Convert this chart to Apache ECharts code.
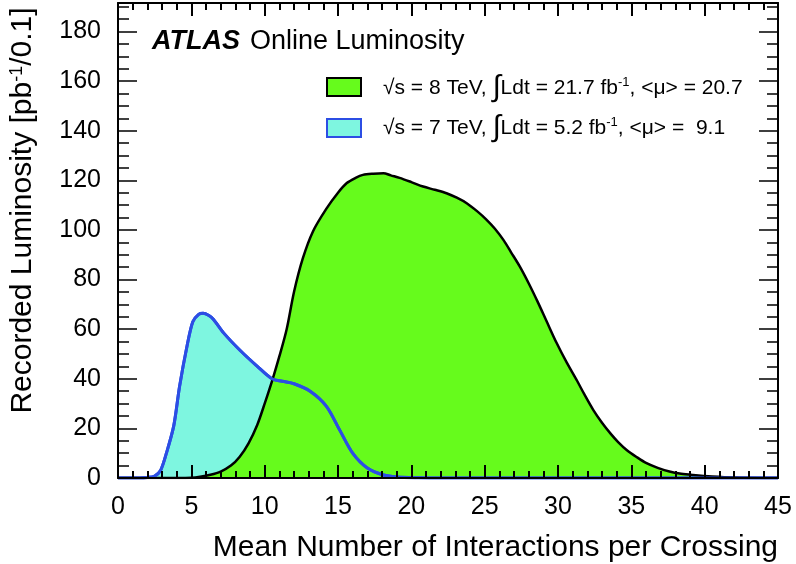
<!DOCTYPE html>
<html>
<head>
<meta charset="utf-8">
<script src="https://cdn.jsdelivr.net/npm/echarts@6/dist/echarts.min.js"></script>
<style>
  html, body { margin: 0; padding: 0; background: #fff; }
  #chart { width: 796px; height: 564px; }
</style>
</head>
<body>
<div id="chart"></div>
<script>
// <mu> per crossing (x) and recorded luminosity [pb^-1 / 0.1] (y)
const MU_8TEV = [0, 4, 5, 5.6, 6.3, 7.0, 7.7, 8.3, 8.9, 9.5,
  10.0, 10.55, 11.0, 11.5, 12.0, 12.6, 13.3, 14.2, 15.0, 15.6,
  16.2, 16.7, 17.4, 18.1, 18.6, 19.2, 20.0, 20.8, 21.6, 22.4,
  23.1, 23.8, 24.5, 25.1, 25.7, 26.3, 26.8, 27.4, 28.0, 28.6,
  29.2, 29.9, 30.6, 31.3, 31.8, 32.4, 33.0, 33.6, 34.1, 34.7,
  35.4, 36.0, 36.8, 37.6, 38.4, 39.2, 40.5, 42, 45]
const LUMI_8TEV = [0, 0, 0.1, 0.5, 1.3, 2.6, 5, 8.6, 14, 21.5,
  30, 40, 49, 60, 75, 88.5, 99.5, 108.5, 115, 118.9,
  121, 122.2, 122.7, 122.9, 122, 121, 119.3, 117.5, 116.2, 114.8,
  113, 110.7, 107.5, 104.3, 100.5, 95.8, 91, 85.2, 78.5, 71.2,
  63.5, 54.5, 46.5, 39.2, 33.7, 27.5, 22.3, 17.8, 14.5, 11.2,
  8.3, 6.1, 4.1, 2.6, 1.7, 1.2, 0.6, 0.2, 0]

const MU_7TEV = [0, 1.5, 2.0, 2.5, 2.9, 3.3, 3.8, 4.2, 4.7, 5.1,
  5.5, 5.8, 6.2, 6.5, 7.2, 8.3, 9.5, 10.5, 11.2, 12.0,
  13.1, 14.2, 15.1, 16.0, 17.0, 18.1, 19.0, 20.5, 22, 45]
const LUMI_7TEV = [0, 0, 0.2, 0.8, 3, 10, 21, 37, 53, 63,
  66, 66.4, 65.5, 64, 58.5, 51.6, 45, 40, 39, 38,
  35, 29, 19.5, 10, 4, 1.2, 0.4, 0.1, 0, 0]

const LEGEND_8TEV = '{n|√s = 8 TeV, }{i|∫}{n|Ldt = 21.7 fb}{s|-1}{n|, <μ> = 20.7}'
const LEGEND_7TEV = '{n|√s = 7 TeV, }{i|∫}{n|Ldt = 5.2 fb}{s|-1}{n|, <μ> =  9.1}'

const GREEN = '#66fb1c'
const CYAN = '#7ef6e0'
const BLUE = '#2c4ee4'
const FONT = 'Liberation Sans'
const X_MAX = 45, Y_MAX = 191.5
const GRID = { left: 118, right: 18, top: 3, bottom: 86 }

const pairs = (xs, ys) => xs.map((x, i) => [x, ys[i]])

const LABEL = { color: '#000', fontSize: 25, fontFamily: FONT }
const TICKS = { color: '#000', width: 2 }
const LEGEND_RICH = {
  n: { fontSize: 21, fontFamily: FONT, color: '#000', lineHeight: 24 },
  i: { fontSize: 30, fontFamily: FONT, color: '#000', lineHeight: 24 },
  s: { fontSize: 13, fontFamily: FONT, color: '#000', lineHeight: 13, verticalAlign: 'top' }
}

// grid 0: labelled bottom axis + top ticks; grid 1 (same rect): extra bottom ticks only
function xAxis(grid, pos, labels) {
  return {
    gridIndex: grid, type: 'value', min: 0, max: X_MAX, interval: 5,
    position: pos, z: 10, zlevel: 1,
    axisLine: { show: grid === 0, onZero: false, lineStyle: { color: '#000', width: 2 } },
    axisTick: { show: true, inside: true, length: 13, lineStyle: TICKS },
    minorTick: { show: true, splitNumber: 5, length: 7, lineStyle: TICKS },
    axisLabel: labels ? { ...LABEL, margin: 17 } : { show: false },
    splitLine: { show: false }
  }
}

// major y ticks every 20, minor every 5 through a second unlabelled axis;
// the right-hand pair lives in the twin grid laid over the first
function yAxis(right, minor) {
  return {
    gridIndex: right ? 1 : 0,
    type: 'value', min: 0, max: Y_MAX, interval: minor ? 5 : 20,
    position: right ? 'right' : 'left', z: 10, zlevel: 1,
    axisLine: { show: !minor, onZero: false, lineStyle: { color: '#000', width: 2 } },
    axisTick: { show: true, inside: true, length: minor ? 11 : 19, lineStyle: { color: '#000', width: 1.5 } },
    axisLabel: (right || minor) ? { show: false } : { ...LABEL, margin: 17, showMaxLabel: false },
    splitLine: { show: false },
    name: (right || minor) ? '' : 'Recorded Luminosity [pb{s|-1}/0.1]',
    nameLocation: 'middle', nameGap: 80,
    nameTextStyle: {
      color: '#000', fontSize: 30, fontFamily: FONT, padding: [0, 0, 0, 60],
      rich: { s: { fontSize: 18, fontFamily: FONT, color: '#000', verticalAlign: 'top' } }
    }
  }
}

const chart = echarts.init(document.getElementById('chart'))
chart.setOption({
  animation: false,
  grid: [GRID, GRID],
  xAxis: [xAxis(0, 'bottom', true), xAxis(0, 'top', false), xAxis(1, 'bottom', false)],
  yAxis: [yAxis(false, false), yAxis(false, true), yAxis(true, false), yAxis(true, true)],
  series: [
    {
      name: '7 TeV', type: 'line', data: pairs(MU_7TEV, LUMI_7TEV),
      smooth: 0.3, showSymbol: false,
      lineStyle: { color: BLUE, width: 3 },
      areaStyle: { color: CYAN, opacity: 1 }
    },
    {
      name: '8 TeV', type: 'line', data: pairs(MU_8TEV, LUMI_8TEV),
      smooth: 0.3, showSymbol: false,
      lineStyle: { color: '#000', width: 2.5 },
      areaStyle: { color: GREEN, opacity: 1 }
    },
    {
      name: '7 TeV line', type: 'line', data: pairs(MU_7TEV, LUMI_7TEV),
      smooth: 0.3, showSymbol: false,
      lineStyle: { color: BLUE, width: 3 }
    }
  ],
  graphic: [
    { type: 'text', left: 152, top: 28, style: { text: 'ATLAS', font: 'italic bold 27px "Liberation Sans"', fill: '#000' } },
    { type: 'text', left: 250, top: 28, style: { text: 'Online Luminosity', font: '27px "Liberation Sans"', fill: '#000' } },
    { type: 'text', right: 18, top: 533, style: { text: 'Mean Number of Interactions per Crossing', font: '30px "Liberation Sans"', fill: '#000' } },
    { type: 'rect', shape: { x: 327, y: 78, width: 34, height: 18 }, style: { fill: GREEN, stroke: '#000', lineWidth: 2 } },
    { type: 'rect', shape: { x: 327, y: 119, width: 34, height: 18 }, style: { fill: CYAN, stroke: BLUE, lineWidth: 2 } },
    { type: 'text', x: 383, y: 88, style: { text: LEGEND_8TEV, rich: LEGEND_RICH, verticalAlign: 'middle' } },
    { type: 'text', x: 383, y: 128, style: { text: LEGEND_7TEV, rich: LEGEND_RICH, verticalAlign: 'middle' } }
  ]
})
window.addEventListener('resize', () => chart.resize())
</script>
</body>
</html>
